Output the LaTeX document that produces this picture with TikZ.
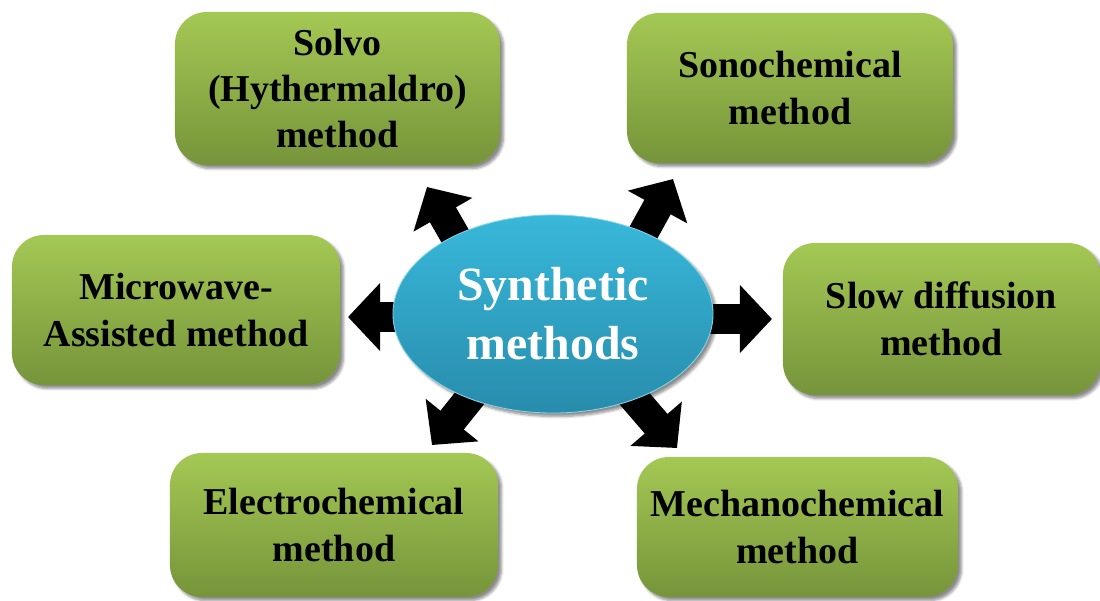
\documentclass[tikz,border=0pt]{standalone}
\usepackage{fontspec}
\setmainfont{Liberation Serif}
\usetikzlibrary{arrows.meta,shadows.blur,shapes.geometric,backgrounds}
\definecolor{gtop}{RGB}{164,200,84}
\definecolor{gbot}{RGB}{118,148,58}
\definecolor{btop}{RGB}{56,184,218}
\definecolor{bbot}{RGB}{40,140,172}
\tikzset{
  method/.style={rectangle, rounded corners=0.8cm, top color=gtop, bottom color=gbot,
    draw=none, align=center, inner sep=0pt,
    font=\fontsize{27}{33}\selectfont\bfseries,
    blur shadow={shadow xshift=2.5pt, shadow yshift=-2.5pt, shadow blur steps=6, shadow opacity=45}},
  hub/.style={ellipse, top color=btop, bottom color=bbot, draw=btop!60!white, line width=0.6pt,
    inner sep=0pt, minimum width=8.0cm, minimum height=4.95cm, align=center, text=white,
    font=\fontsize{34}{42}\selectfont\bfseries,
    blur shadow={shadow xshift=2.5pt, shadow yshift=-2.5pt, shadow blur steps=6, shadow opacity=45}},
  bigarrow/.style={line width=0.75cm, black, -{Triangle[length=0.8cm, width=1.65cm]}}
}
\begin{document}
\begin{tikzpicture}[x=0.025cm,y=-0.025cm]
\useasboundingbox (0,0) rectangle (1100,600);
% method boxes
\node[method, minimum width=8.125cm, minimum height=3.825cm] (solvo) at (337.5,88.5) {Solvo\\(Hythermaldro)\\method};
\node[method, minimum width=8.15cm, minimum height=3.75cm] (sono) at (790,88) {Sonochemical\\method};
\node[method, minimum width=8.2cm, minimum height=3.75cm] (micro) at (176,310) {Microwave-\\Assisted method};
\node[method, minimum width=7.925cm, minimum height=3.8cm] (slow) at (941.5,319) {Slow diffusion\\method};
\node[method, minimum width=8.2cm, minimum height=3.6cm] (electro) at (334,525) {Electrochemical\\method};
\node[method, minimum width=8.025cm, minimum height=3.5cm] (mech) at (797.5,527) {Mechanochemical\\method};
% hub
\node[hub] (hub) at (553,314) {Synthetic\\methods};
% arrow end points
\coordinate (s1) at (470,262);
\coordinate (t1) at (427,187);
\coordinate (s2) at (630,257);
\coordinate (t2) at (673,179);
\coordinate (s3) at (420,317);
\coordinate (t3) at (348,317);
\coordinate (s4) at (690,319);
\coordinate (t4) at (772,319);
\coordinate (s5) at (490,373);
\coordinate (t5) at (432,445);
\coordinate (s6) at (615,376);
\coordinate (t6) at (677,448);
\begin{pgfonlayer}{background}
\draw[bigarrow] (s1) -- (t1);
\draw[bigarrow] (s2) -- (t2);
\draw[bigarrow] (s3) -- (t3);
\draw[bigarrow] (s4) -- (t4);
\draw[bigarrow] (s5) -- (t5);
\draw[bigarrow] (s6) -- (t6);
\end{pgfonlayer}
\end{tikzpicture}
\end{document}
